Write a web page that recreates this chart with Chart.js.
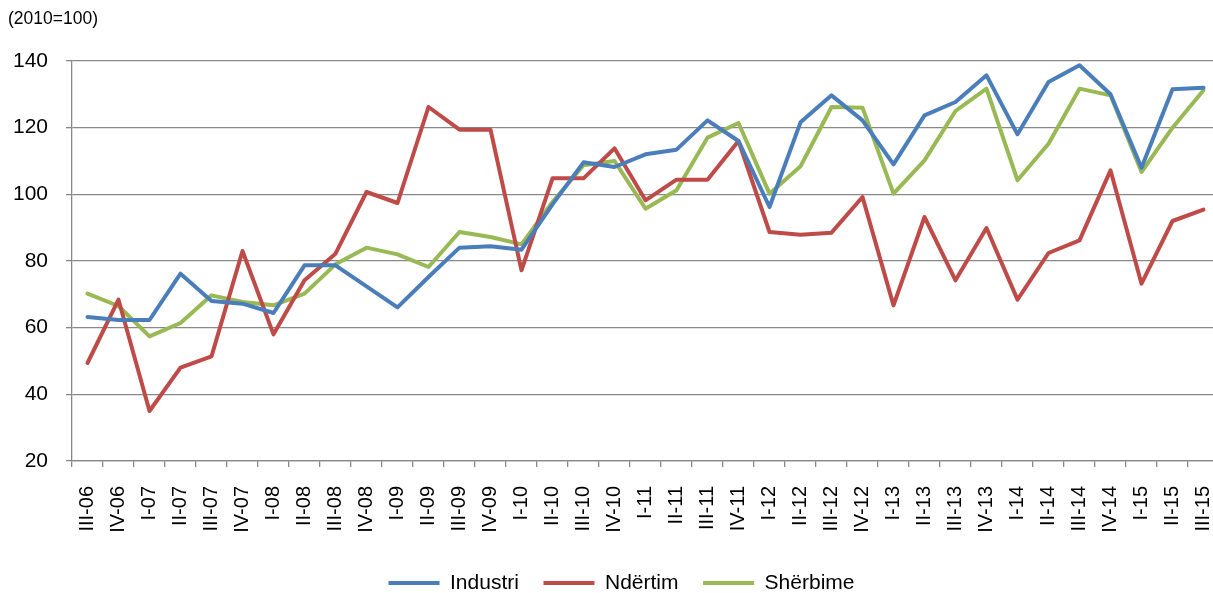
<!DOCTYPE html>
<html>
<head>
<meta charset="utf-8">
<script src="https://cdn.jsdelivr.net/npm/chart.js@4.4.1/dist/chart.umd.min.js"></script>
<style>
  html, body { margin: 0; padding: 0; background: #fff; overflow: hidden; }
  #wrap { position: relative; width: 1213px; height: 593px; overflow: hidden; }
  canvas { display: block; }
</style>
</head>
<body>
<div id="wrap"><canvas id="c" width="1219" height="593"></canvas></div>
<script>
const categories = ['III-06','IV-06','I-07','II-07','III-07','IV-07','I-08','II-08','III-08','IV-08','I-09','II-09','III-09','IV-09','I-10','II-10','III-10','IV-10','I-11','II-11','III-11','IV-11','I-12','II-12','III-12','IV-12','I-13','II-13','III-13','IV-13','I-14','II-14','III-14','IV-14','I-15','II-15','III-15'];
const industri = [63.2, 62.3, 62.3, 76.2, 68, 67.2, 64.4, 78.7, 78.7, 72.4, 66.1, 75.2, 84, 84.4, 83.4, 97, 109.6, 108.2, 112, 113.4, 122.2, 116, 96.2, 121.6, 129.7, 122.2, 109, 123.7, 127.7, 135.7, 118, 133.7, 138.7, 130, 108, 131.5, 132];
const ndertim = [49.4, 68.4, 35, 48, 51.4, 83, 58, 74.2, 82.2, 100.7, 97.4, 126.2, 119.4, 119.4, 77.2, 104.8, 104.8, 113.8, 98.2, 104.4, 104.4, 116, 88.7, 87.9, 88.5, 99.2, 66.7, 93.2, 74.2, 89.9, 68.4, 82.4, 86.2, 107.2, 73.2, 92, 95.4];
const sherbime = [70.2, 66.5, 57.4, 61.4, 69.7, 67.7, 66.7, 70.2, 79, 84, 82, 78.2, 88.7, 87.2, 85, 97.7, 108.7, 110, 95.7, 101.2, 117, 121.4, 100.2, 108.4, 126.2, 126, 100.2, 110.2, 125, 131.7, 104.2, 115.2, 131.7, 129.7, 106.7, 120, 131.2];
const seriesNames = ['Industri', 'Ndërtim', 'Shërbime'];
const unitNote = '(2010=100)';
const yMin = 20, yMax = 140, yStep = 20;

const FONT = "'Liberation Sans', Arial, sans-serif";
const GRID = '#898989';

const legendNudge = {
  id: 'legendNudge',
  afterLayout(chart) {
    const l = chart.legend;
    if (!l) return;
    l.left += 8; l.right += 8;
    l.top += 10.5; l.bottom += 10.5;
  }
};

function ds(label, data, color) {
  return {
    label, data,
    borderColor: color, backgroundColor: color,
    borderWidth: 4, pointRadius: 0, pointHoverRadius: 0,
    tension: 0, fill: false,
    borderJoinStyle: 'round', borderCapStyle: 'round'
  };
}

new Chart(document.getElementById('c'), {
  type: 'line',
  data: {
    labels: categories,
    datasets: [
      ds(seriesNames[0], industri, '#4A7EBB'),
      ds(seriesNames[1], ndertim, '#BE4B48'),
      ds(seriesNames[2], sherbime, '#98B954')
    ]
  },
  plugins: [legendNudge],
  options: {
    responsive: false,
    animation: false,
    devicePixelRatio: 1,
    layout: { padding: { left: 8, right: 0, top: 0, bottom: 0 } },
    plugins: {
      tooltip: { enabled: false },
      title: {
        display: true,
        text: unitNote,
        align: 'start',
        color: '#000',
        font: { family: FONT, size: 17.5, weight: 'normal', lineHeight: 1.2 },
        padding: { top: 9, bottom: 31 }
      },
      legend: {
        display: true,
        position: 'bottom',
        labels: {
          usePointStyle: true,
          pointStyle: 'line',
          pointStyleWidth: 51,
          padding: 24.6,
          color: '#000',
          font: { family: FONT, size: 21 }
        }
      }
    },
    scales: {
      x: {
        type: 'category',
        offset: true,
        afterFit(scale) {
          scale.height = 76.4;
          scale.paddingLeft = 0;
          scale.paddingRight = 0;
        },
        grid: {
          offset: true,
          drawOnChartArea: false,
          drawTicks: true,
          tickLength: 6,
          color: GRID,
          lineWidth: 1.3
        },
        border: { display: true, color: GRID, width: 1.3 },
        ticks: {
          autoSkip: false,
          minRotation: 90,
          maxRotation: 90,
          padding: 19,
          color: '#000',
          font: { family: FONT, size: 20 }
        }
      },
      y: {
        min: yMin, max: yMax,
        afterFit(scale) { scale.width = 64; },
        grid: {
          drawTicks: true,
          tickLength: 6,
          color: GRID,
          lineWidth: 1.3
        },
        border: { display: true, color: GRID, width: 1.3 },
        ticks: {
          stepSize: yStep,
          padding: 18,
          color: '#000',
          font: { family: FONT, size: 21 }
        }
      }
    }
  }
});
</script>
</body>
</html>
